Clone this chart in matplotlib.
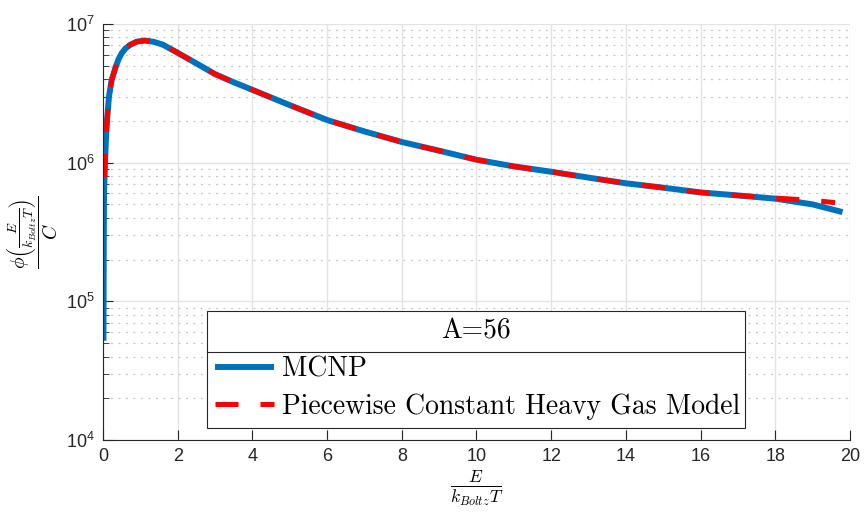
import matplotlib
matplotlib.use("Agg")
import matplotlib.pyplot as plt
import numpy as np
from matplotlib.patches import Rectangle
from matplotlib.ticker import FixedLocator, FuncFormatter, LogLocator, NullFormatter

# ---- data ----
x_mcnp = [0.012, 0.02, 0.027, 0.054, 0.08, 0.107, 0.16, 0.233, 0.34, 0.42, 0.5, 0.6,
          0.72, 0.9, 1.12, 1.35, 1.6, 1.93, 2.5, 3.0, 3.5, 4.0, 5.0, 6.0, 7.0, 8.0, 9.0,
          10.0, 11.0, 12.0, 13.0, 14.0, 15.0, 16.0, 17.0, 18.0, 19.0, 19.8]
y_mcnp = [5.2e4, 2.5e5, 6.0e5, 1.0e6, 1.5e6, 2.0e6, 3.0e6, 3.95e6, 4.9e6, 5.6e6, 6.15e6,
          6.65e6, 7.06e6, 7.45e6, 7.6e6, 7.45e6, 7.1e6, 6.35e6, 5.2e6, 4.35e6, 3.8e6,
          3.35e6, 2.6e6, 2.03e6, 1.68e6, 1.41e6, 1.22e6, 1.05e6, 9.4e5, 8.6e5, 7.8e5,
          7.1e5, 6.6e5, 6.1e5, 5.8e5, 5.5e5, 5.0e5, 4.4e5]

x_pc = [0.04, 0.054, 0.08, 0.107, 0.16, 0.233, 0.34, 0.42, 0.5, 0.6, 0.72, 0.9, 1.12,
        1.35, 1.6, 1.93, 2.5, 3.0, 3.5, 4.0, 5.0, 6.0, 7.0, 8.0, 9.0, 10.0, 11.0, 12.0,
        13.0, 14.0, 15.0, 16.0, 17.0, 18.0, 19.0, 19.6]
y_pc = [7.9e5, 1.0e6, 1.5e6, 2.0e6, 3.0e6, 3.95e6, 4.9e6, 5.6e6, 6.15e6, 6.65e6, 7.06e6,
        7.45e6, 7.6e6, 7.45e6, 7.1e6, 6.35e6, 5.2e6, 4.35e6, 3.8e6, 3.35e6, 2.6e6,
        2.03e6, 1.68e6, 1.41e6, 1.22e6, 1.05e6, 9.4e5, 8.6e5, 7.8e5, 7.1e5, 6.6e5,
        6.1e5, 5.8e5, 5.55e5, 5.35e5, 5.15e5]

x_ticks = [0, 2, 4, 6, 8, 10, 12, 14, 16, 18, 20]
y_ticks = [1e4, 1e5, 1e6, 1e7]
legend_title = "A=56"
labels = ["MCNP", "Piecewise Constant Heavy Gas Model"]

plt.rcParams['font.family'] = ['Liberation Sans', 'DejaVu Sans']

fig = plt.figure(figsize=(8.64, 5.14), dpi=100)
ax = fig.add_axes([0.1192, 0.1440, 0.8646, 0.8093])

ax.plot(x_mcnp, y_mcnp, color='#0072BD', lw=4.3, label=labels[0], solid_capstyle='butt',
        solid_joinstyle='round')
ax.plot(x_pc, y_pc, color='#FF0000', lw=3.6, dashes=(4.6, 4.4), label=labels[1],
        dash_capstyle='butt')

ax.set_yscale('log')
ax.set_xlim(0, 20)
ax.set_ylim(1e4, 1e7)

ax.xaxis.set_major_locator(FixedLocator(x_ticks))
ax.yaxis.set_major_locator(FixedLocator(y_ticks))
ax.yaxis.set_minor_locator(LogLocator(base=10, subs=np.arange(2, 10)))
ax.yaxis.set_minor_formatter(NullFormatter())
ax.yaxis.set_major_formatter(FuncFormatter(
    lambda v, p: r'$\mathregular{10^{%d}}$' % int(round(np.log10(v)))))

ax.tick_params(axis='both', which='major', direction='in', length=7, width=0.8,
               colors='#262626', labelsize=13, pad=6)
ax.tick_params(axis='y', which='minor', direction='in', length=4, width=0.6,
               colors='#262626')
ax.tick_params(axis='x', which='minor', bottom=False)

ax.grid(True, which='major', color='#e3e3e3', lw=1.0, ls='-')
ax.grid(True, which='minor', axis='y', color='#c4c4c4', lw=0.9, ls=(0, (1.5, 4.5)))
ax.set_axisbelow(True)

for s in ['top', 'right']:
    ax.spines[s].set_visible(False)
for s in ['left', 'bottom']:
    ax.spines[s].set_color('#262626')
    ax.spines[s].set_linewidth(0.8)

ax.set_xlabel(r'$\frac{E}{k_{Boltz}T}$', fontsize=18, math_fontfamily='cm', labelpad=2)
ax.set_ylabel(r'$\dfrac{\phi\left(\frac{E}{k_{Boltz}T}\right)}{C}$', fontsize=14,
              math_fontfamily='cm', labelpad=4)

# ---- legend: box with title section and separator ----
bx0, bx1, by0, by1, bsep = 0.1392, 0.8594, 0.0288, 0.3101, 0.2115
ax.add_patch(Rectangle((bx0, by0), bx1 - bx0, by1 - by0, transform=ax.transAxes,
                       facecolor='white', edgecolor='#262626', lw=0.8, zorder=4,
                       clip_on=False))
ax.plot([bx0, bx1], [bsep, bsep], transform=ax.transAxes, color='#262626',
        lw=0.8, zorder=4.5, clip_on=False)
ax.text((bx0 + bx1) / 2, (by1 + bsep) / 2, legend_title, transform=ax.transAxes,
        ha='center', va='center', family='cmr10', fontsize=19.9, zorder=6)

leg = ax.legend(loc='center left', bbox_to_anchor=(0.1499, 0.125),
                borderaxespad=0, borderpad=0, frameon=False,
                prop={'family': 'cmr10', 'size': 19.9},
                handlelength=2.14, handletextpad=0.29, labelspacing=0.39)
leg.set_zorder(6)

fig.savefig('out.png', dpi=100)
